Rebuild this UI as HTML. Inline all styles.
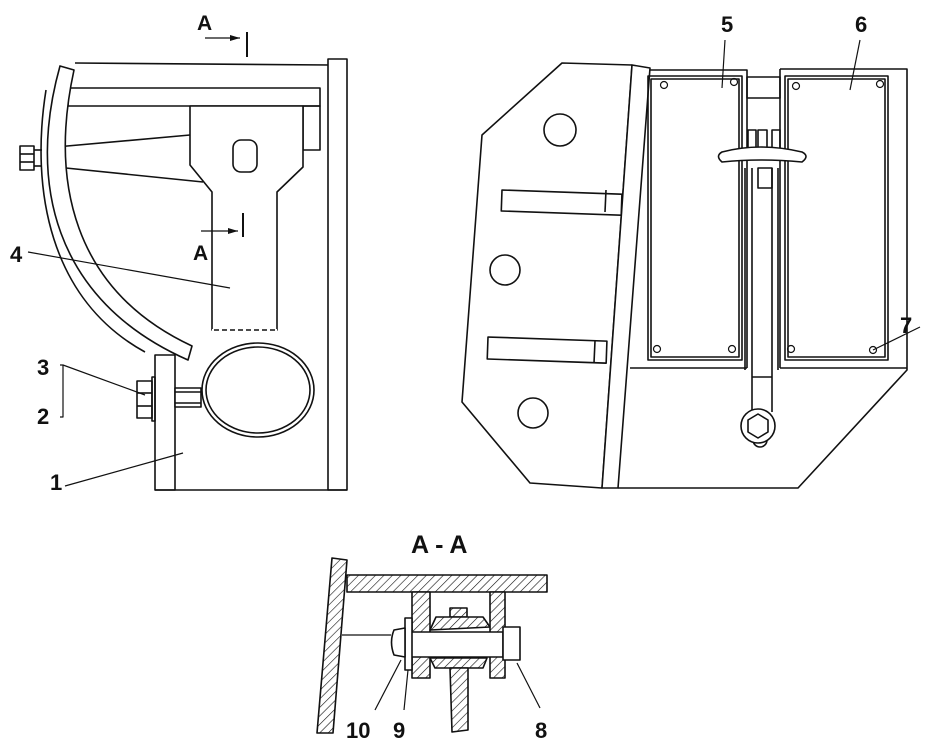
<!DOCTYPE html>
<html><head><meta charset="utf-8"><style>
html,body{margin:0;padding:0;background:#fff;}
svg{display:block}
text{font-family:"Liberation Sans",Arial,sans-serif;font-weight:bold;fill:#111;}
</style></head><body>
<svg width="952" height="746" viewBox="0 0 952 746" xmlns="http://www.w3.org/2000/svg">
<defs>
<pattern id="h" width="6" height="6" patternUnits="userSpaceOnUse" patternTransform="rotate(45)">
<rect width="6" height="6" fill="#fff"/><line x1="0" y1="0" x2="0" y2="6" stroke="#111" stroke-width="1.2"/>
</pattern>
</defs>
<g fill="none" stroke="#111" stroke-width="1.6" stroke-linejoin="round">
<!-- LEFT VIEW -->
<line x1="75" y1="63" x2="330" y2="65"/>
<rect x="328" y="59" width="19" height="431" fill="#fff"/>
<rect x="68" y="88" width="252" height="18" fill="#fff"/>
<rect x="303" y="106" width="17" height="44"/>
<polygon points="190,106 190,165 212,192 212,330 277,330 277,192 303,167 303,106" fill="#fff"/>
<line x1="212" y1="330" x2="277" y2="330" stroke="#fff" stroke-width="2"/>
<line x1="214" y1="330" x2="277" y2="330" stroke-dasharray="5,3"/>
<rect x="233" y="140" width="24" height="32" rx="8"/>
<line x1="56" y1="147" x2="190" y2="135"/>
<line x1="56" y1="167" x2="203" y2="182"/>
<path d="M60,66 L74,70 C50,180 72,290 192,346 L188,360 C52,300 28,180 60,66 Z" fill="#fff"/>
<path d="M46,90 C30,190 50,300 145,352"/>
<rect x="20" y="146" width="14" height="24"/><line x1="20" y1="154" x2="34" y2="154"/><line x1="20" y1="162" x2="34" y2="162"/>
<line x1="34" y1="150" x2="42" y2="150"/><line x1="34" y1="166" x2="42" y2="166"/>
<rect x="155" y="355" width="20" height="135" fill="#fff"/>
<line x1="155" y1="490" x2="347" y2="490"/>
<rect x="175" y="388" width="26" height="19" fill="#fff"/>
<line x1="175" y1="392" x2="201" y2="392"/><line x1="175" y1="403" x2="201" y2="403"/>
<ellipse cx="258" cy="390" rx="56" ry="47" fill="none"/>
<ellipse cx="258" cy="390" rx="52" ry="43"/>
<rect x="137" y="381" width="15" height="37" fill="#fff"/>
<line x1="137" y1="393" x2="152" y2="393"/><line x1="137" y1="406" x2="152" y2="406"/>
<rect x="152" y="377" width="3" height="44"/>
<!-- section marks -->
<line x1="205" y1="38" x2="240" y2="38" stroke-width="1.2"/><polygon points="240,38 230,35 230,41" fill="#111" stroke="none"/>
<line x1="247" y1="32" x2="247" y2="57" stroke-width="2"/>
<line x1="201" y1="231" x2="238" y2="231" stroke-width="1.2"/><polygon points="238,231 228,228 228,234" fill="#111" stroke="none"/>
<line x1="243" y1="213" x2="243" y2="237" stroke-width="2"/>
<line x1="28" y1="252" x2="230" y2="288" stroke-width="1.2"/>
<line x1="63" y1="365" x2="145" y2="395" stroke-width="1.2"/>
<polyline points="60,365 63,365 63,417 60,417" stroke-width="1.2"/>
<line x1="65" y1="486" x2="183" y2="453" stroke-width="1.2"/>

<!-- RIGHT VIEW -->
<polygon points="562,63 632,65 602,488 530,483 462,402 482,135" fill="#fff"/>
<polygon points="632,65 650,68 618,488 602,488" fill="#fff"/>
<polyline points="650,70 747,70 747,368"/>
<polyline points="780,69 907,69 907,370 798,488 618,488"/>
<line x1="780" y1="69" x2="780" y2="368"/>
<line x1="630" y1="368" x2="747" y2="368"/>
<line x1="780" y1="368" x2="907" y2="368"/>
<rect x="648" y="76" width="94" height="284"/><rect x="651" y="79" width="88" height="278"/>
<rect x="785" y="76" width="103" height="284"/><rect x="788" y="79" width="97" height="278"/>
<g stroke-width="1.2">
<circle cx="664" cy="85" r="3.5"/><circle cx="734" cy="82" r="3.5"/><circle cx="657" cy="349" r="3.5"/><circle cx="732" cy="349" r="3.5"/>
<circle cx="796" cy="86" r="3.5"/><circle cx="880" cy="84" r="3.5"/><circle cx="791" cy="349" r="3.5"/><circle cx="873" cy="350" r="3.5"/>
</g>
<rect x="747" y="77" width="33" height="21"/>
<rect x="748" y="130" width="8" height="22"/><rect x="758" y="130" width="9" height="22"/><rect x="772" y="130" width="8" height="22"/>
<line x1="745" y1="168" x2="745" y2="370"/><line x1="752" y1="168" x2="752" y2="377"/><line x1="772" y1="168" x2="772" y2="377"/><line x1="778" y1="168" x2="778" y2="370"/>
<line x1="752" y1="377" x2="772" y2="377"/>
<rect x="758" y="168" width="14" height="20"/>
<path d="M722,152 Q760,142 802,152 Q810,156 802,162 Q760,158 722,162 Q715,156 722,152 Z" fill="#fff"/>
<line x1="752" y1="377" x2="752" y2="412"/><line x1="772" y1="377" x2="772" y2="412"/>
<circle cx="760" cy="440" r="7"/>
<circle cx="758" cy="426" r="17" fill="#fff"/>
<polygon points="758,414 768,420 768,432 758,438 748,432 748,420"/>
<rect x="502" y="190" width="120" height="21" transform="rotate(2 502 190)" fill="#fff"/>
<line x1="606" y1="190" x2="605" y2="212"/>
<rect x="488" y="337" width="119" height="22" transform="rotate(2 488 337)" fill="#fff"/>
<line x1="595" y1="341" x2="594" y2="363"/>
<circle cx="560" cy="130" r="16"/><circle cx="505" cy="270" r="15"/><circle cx="533" cy="413" r="15"/>
<line x1="725" y1="40" x2="722" y2="88" stroke-width="1.2"/>
<line x1="860" y1="40" x2="850" y2="90" stroke-width="1.2"/>
<line x1="920" y1="327" x2="873" y2="350" stroke-width="1.2"/>

<!-- SECTION A-A -->
<polygon points="332,558 347,560 333,733 317,733" fill="url(#h)"/>
<rect x="347" y="575" width="200" height="17" fill="url(#h)"/>
<rect x="412" y="592" width="18" height="86" fill="url(#h)"/>
<rect x="490" y="592" width="15" height="86" fill="url(#h)"/>
<rect x="450" y="608" width="17" height="9" fill="url(#h)"/>
<polygon points="436,617 483,617 490,627 430,630" fill="url(#h)"/>
<polygon points="430,658 487,658 483,668 435,668" fill="url(#h)"/>
<polygon points="450,668 468,668 468,730 452,732" fill="url(#h)"/>
<rect x="410" y="632" width="93" height="25" fill="#fff"/>
<rect x="503" y="627" width="17" height="33" fill="#fff"/>
<rect x="405" y="618" width="7" height="52" fill="#fff"/>
<path d="M405,628 L394,630 Q389,642 394,655 L405,657 Z" fill="#fff"/>
<line x1="342" y1="635" x2="391" y2="635" stroke-width="1.2"/>
<line x1="375" y1="710" x2="401" y2="660" stroke-width="1.2"/>
<line x1="404" y1="710" x2="408" y2="670" stroke-width="1.2"/>
<line x1="540" y1="708" x2="517" y2="663" stroke-width="1.2"/>
</g>
<text x="197" y="30" font-size="21">A</text>
<text x="193" y="260" font-size="21">A</text>
<text x="10" y="262" font-size="22">4</text>
<text x="37" y="375" font-size="22">3</text>
<text x="37" y="424" font-size="22">2</text>
<text x="50" y="490" font-size="22">1</text>
<text x="721" y="32" font-size="22">5</text>
<text x="855" y="32" font-size="22">6</text>
<text x="900" y="333" font-size="22">7</text>
<text x="411" y="553" font-size="25">A - A</text>
<text x="346" y="738" font-size="22">10</text>
<text x="393" y="738" font-size="22">9</text>
<text x="535" y="738" font-size="22">8</text>
</svg>
</body></html>
